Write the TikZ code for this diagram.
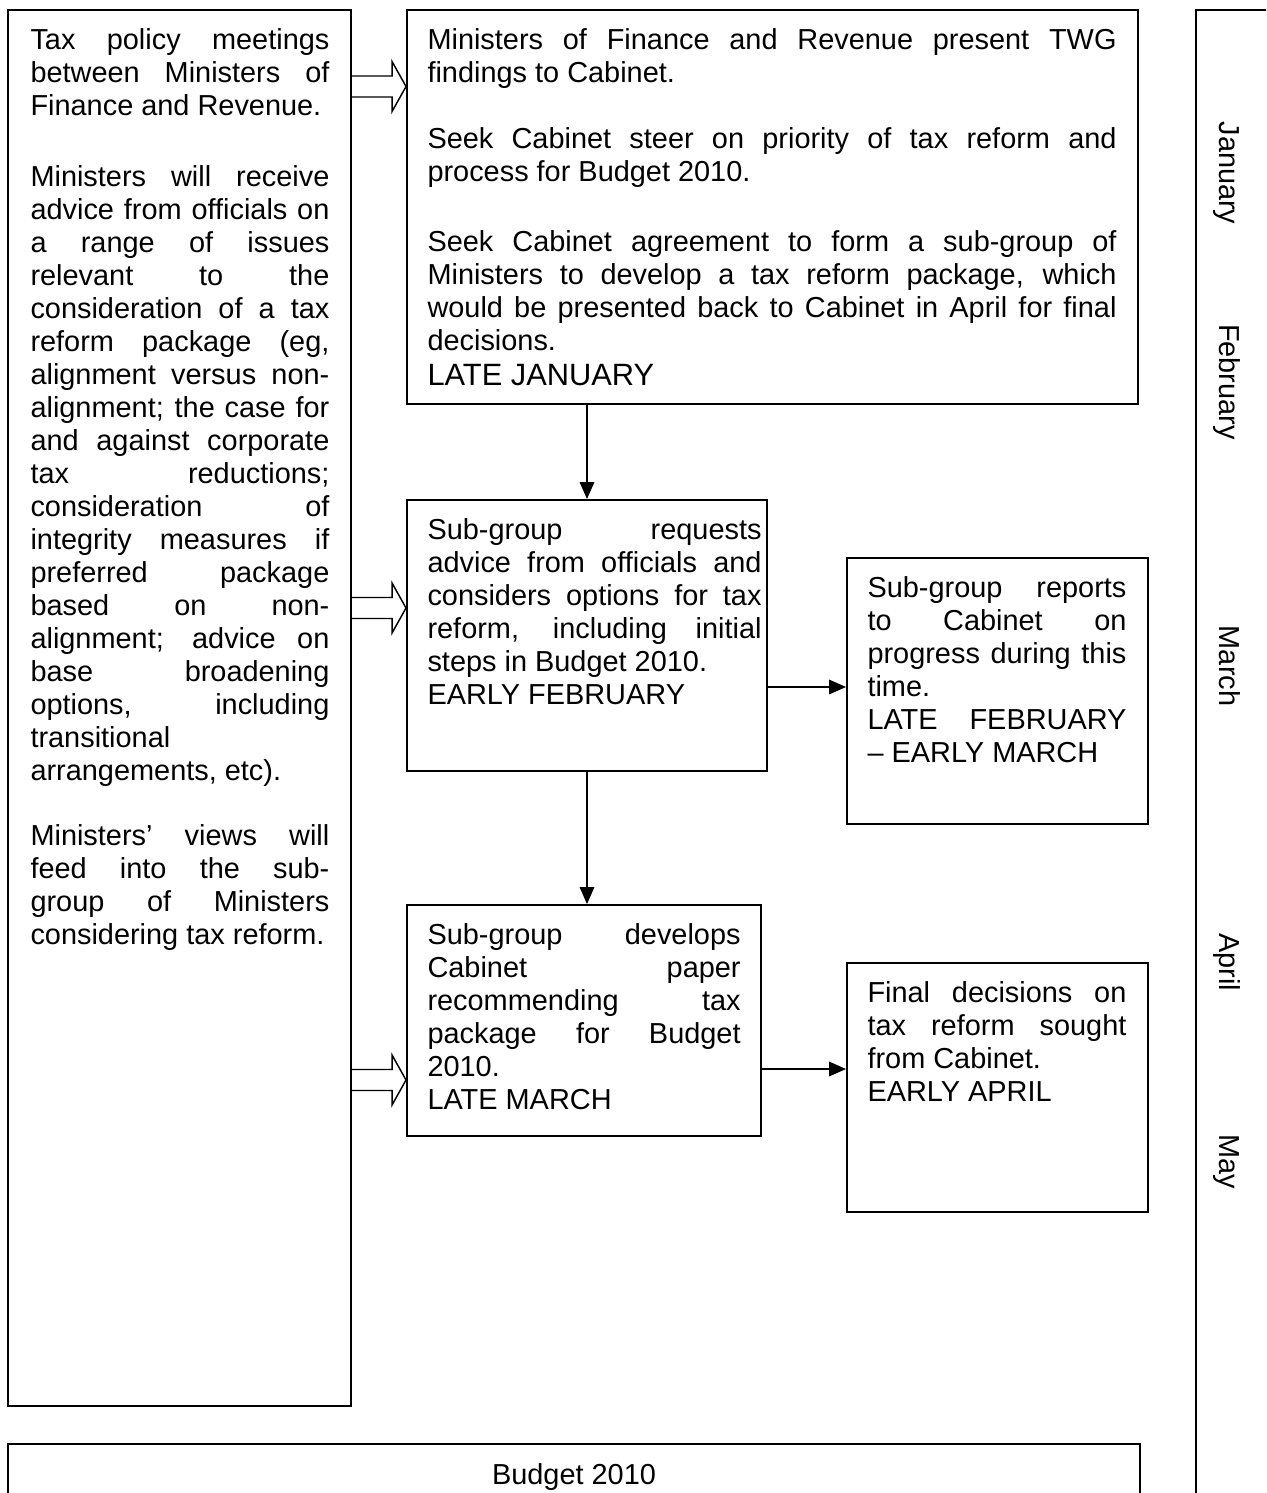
\documentclass[tikz,border=0pt]{standalone}
\usepackage{fontspec}
\setmainfont{Liberation Sans}
\usetikzlibrary{arrows.meta,calc,fit}
\hbadness=10000
\tolerance=10000
\hyphenpenalty=10000

\tikzset{
  box/.style={draw, line width=0.8pt, inner sep=0pt},
  txt/.style={anchor=north west, inner sep=0pt, align=justify,
    font=\fontsize{12}{13.7}\selectfont},
  flow/.style={-{Triangle[length=7pt,width=6pt]}, line width=0.6pt},
  hollow/.style={line width=0.6pt, to path={
    ($(\tikztostart)+(0,-10.5)$) -- ($(\tikztotarget)+(-14,-10.5)$)
    -- ($(\tikztotarget)+(-14,-25)$) -- (\tikztotarget)
    -- ($(\tikztotarget)+(-14,25)$) -- ($(\tikztotarget)+(-14,10.5)$)
    -- ($(\tikztostart)+(0,10.5)$)}},
  month/.style={rotate=-90, anchor=base, font=\fontsize{12}{13.7}\selectfont}
}

\begin{document}
\begin{tikzpicture}[x=0.4152pt, y=-0.4152pt]
  \useasboundingbox (0,0) rectangle (1266,1493);
  \clip (0,0) rectangle (1266,1493);

  % boxes
  \node[box, fit={(8,10) (351,1406)}] (ministers) {};
  \node[box, fit={(407,10) (1138,404)}] (twg) {};
  \node[box, fit={(407,500) (767,771)}] (requests) {};
  \node[box, fit={(847,558) (1148,824)}] (reports) {};
  \node[box, fit={(407,905) (761,1136)}] (develops) {};
  \node[box, fit={(847,963) (1148,1212)}] (final) {};
  \node[box, fit={(8,1444) (1140,1510)}] (budget) {};
  \node[box, fit={(1196,10) (1300,1520)}] (timeline) {};

  % texts
  \node[txt, text width=124.1pt] (ministers text) at ($(ministers.north west)+(23,19)$) {%
    Tax policy meetings\linebreak between Ministers of\linebreak Finance and Revenue.\\[16pt]
    Ministers will receive\linebreak advice from officials on\linebreak a range of issues\linebreak
    relevant to the\linebreak consideration of a tax\linebreak reform package (eg,\linebreak
    alignment versus non-\linebreak alignment; the case for\linebreak and against corporate\linebreak
    tax reductions;\linebreak consideration of\linebreak integrity measures if\linebreak
    preferred package\linebreak based on non-\linebreak alignment; advice on\linebreak
    base broadening\linebreak options, including\linebreak transitional\\
    arrangements, etc).\\[13.3pt]
    Ministers’ views will\linebreak feed into the sub-\linebreak group of Ministers\linebreak
    considering tax reform.};
  \node[txt, text width=286.1pt] (twg text) at ($(twg.north west)+(21,19)$) {%
    Ministers of Finance and Revenue present TWG\linebreak findings to Cabinet.\\[13.7pt]
    Seek Cabinet steer on priority of tax reform and\linebreak process for Budget 2010.\\[15.4pt]
    Seek Cabinet agreement to form a sub-group of\linebreak
    Ministers to develop a tax reform package, which\linebreak
    would be presented back to Cabinet in April for final\linebreak decisions.\\[0.8pt]
    {\fontsize{12.8}{13.7}\selectfont LATE JANUARY}};
  \node[txt, text width=138.7pt] (requests text) at ($(requests.north west)+(21,19)$) {%
    Sub-group requests\linebreak advice from officials and\linebreak considers options for tax\linebreak
    reform, including initial\linebreak steps in Budget 2010.\\ EARLY FEBRUARY};
  \node[txt, text width=107.5pt] (reports text) at ($(reports.north west)+(21,19)$) {%
    Sub-group reports\linebreak to Cabinet on\linebreak progress during this\linebreak time.\\
    LATE FEBRUARY\linebreak – EARLY MARCH};
  \node[txt, text width=130pt] (develops text) at ($(develops.north west)+(21,19)$) {%
    Sub-group develops\linebreak Cabinet paper\linebreak recommending tax\linebreak
    package for Budget\linebreak 2010.\\ LATE MARCH};
  \node[txt, text width=107.5pt] (final text) at ($(final.north west)+(21,19)$) {%
    Final decisions on\linebreak tax reform sought\linebreak from Cabinet.\\ EARLY APRIL};
  \node[font=\fontsize{12}{13.7}\selectfont, inner sep=0pt] (budget text) at (574,1477) {Budget 2010};

  % months
  \node[month] (jan) at (1219,173) {January};
  \node[month] (feb) at (1219,382) {February};
  \node[month] (mar) at (1219,666) {March};
  \node[month] (apr) at (1219,962) {April};
  \node[month] (may) at (1219,1162) {May};

  % connectors
  \draw[hollow] (ministers.east |- 0,86.5) to (twg.west |- 0,86.5);
  \draw[hollow] (ministers.east |- 0,608) to (requests.west |- 0,608);
  \draw[hollow] (ministers.east |- 0,1080) to (develops.west |- 0,1080);
  \draw[flow] (requests.north |- twg.south) -- (requests.north);
  \draw[flow] (requests.south) -- (requests.south |- develops.north);
  \draw[flow] (requests.east |- 0,687) -- (reports.west |- 0,687);
  \draw[flow] (develops.east |- 0,1069) -- (final.west |- 0,1069);
\end{tikzpicture}
\end{document}
